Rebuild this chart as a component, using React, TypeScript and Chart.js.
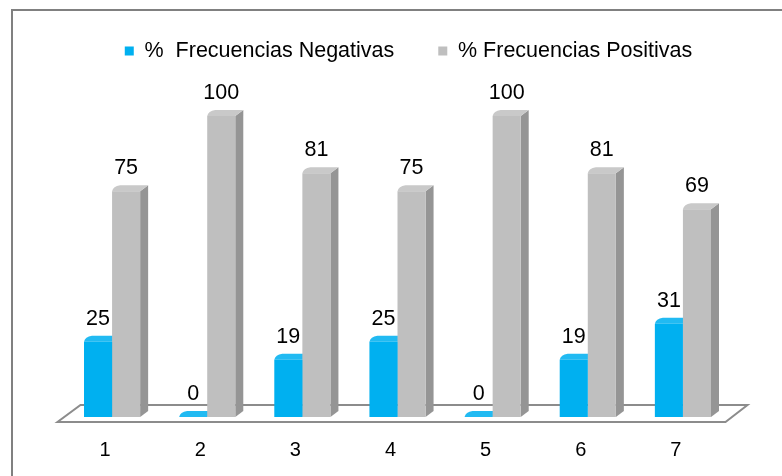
import React, { useEffect, useRef } from "react";
import { Chart, registerables } from "chart.js";

Chart.register(...registerables);

const categories = ["1", "2", "3", "4", "5", "6", "7"];
const negativas = [25, 0, 19, 25, 0, 19, 31];
const positivas = [75, 100, 81, 75, 100, 81, 69];
const seriesNames = ["%  Frecuencias Negativas", "% Frecuencias Positivas"];

const FONT = "'Liberation Sans', Arial, Helvetica, sans-serif";
const BLUE = "#00B0F0";
const BLUE_TOP = "#21BAF2";
const BLUE_SIDE = "#0090C8";
const GRAY = "#BFBFBF";
const GRAY_TOP = "#C9C9C9";
const GRAY_SIDE = "#959595";
const DX = 8;
const DY = -6;

const threeD = {
  id: "threeD",
  beforeDraw(chart: any) {
    const { ctx } = chart;
    ctx.save();
    ctx.strokeStyle = "#808080";
    ctx.lineWidth = 2;
    ctx.strokeRect(12, 10, 900, 700);
    ctx.restore();
  },
  beforeDatasetsDraw(chart: any) {
    const { ctx, chartArea } = chart;
    const base = chart.scales.y.getPixelForValue(0);
    const l = chartArea.left;
    const r = chartArea.right;
    ctx.save();
    // floor
    ctx.beginPath();
    ctx.moveTo(l - 7, base + 5);
    ctx.lineTo(r - 5, base + 5);
    ctx.lineTo(r + 17, base - 12);
    ctx.lineTo(l + 16, base - 12);
    ctx.closePath();
    ctx.fillStyle = "#ffffff";
    ctx.fill();
    ctx.strokeStyle = "#8C8C8C";
    ctx.lineWidth = 2;
    ctx.stroke();
    // side and top faces
    const tops = [BLUE_TOP, GRAY_TOP];
    const sides = [BLUE_SIDE, GRAY_SIDE];
    chart.data.datasets.forEach((ds: any, di: number) => {
      const meta = chart.getDatasetMeta(di);
      meta.data.forEach((bar: any) => {
        const x0 = bar.x - bar.width / 2;
        const x1 = bar.x + bar.width / 2;
        const y = bar.y;
        const b = bar.base;
        // side
        ctx.beginPath();
        ctx.moveTo(x1, y);
        ctx.lineTo(x1 + DX, y + DY);
        ctx.lineTo(x1 + DX, b + DY);
        ctx.lineTo(x1, b);
        ctx.closePath();
        ctx.fillStyle = sides[di];
        ctx.fill();
        // top
        ctx.beginPath();
        ctx.moveTo(x0, y);
        ctx.quadraticCurveTo(x0 + 1, y + DY + 1, x0 + DX, y + DY);
        ctx.lineTo(x1 + DX, y + DY);
        ctx.lineTo(x1, y);
        ctx.closePath();
        ctx.fillStyle = tops[di];
        ctx.fill();
      });
    });
    ctx.restore();
  },
  afterDatasetsDraw(chart: any) {
    const { ctx } = chart;
    ctx.save();
    ctx.font = `21.5px ${FONT}`;
    ctx.fillStyle = "#000000";
    ctx.textAlign = "center";
    ctx.textBaseline = "alphabetic";
    chart.data.datasets.forEach((ds: any, di: number) => {
      const meta = chart.getDatasetMeta(di);
      meta.data.forEach((bar: any, i: number) => {
        ctx.fillText(String(ds.data[i]), bar.x, bar.y - 17);
      });
    });
    ctx.restore();
  },
};

export default function App() {
  const ref = useRef<HTMLCanvasElement>(null);
  useEffect(() => {
    if (!ref.current) return;
    const chart = new Chart(ref.current, {
      type: "bar",
      data: {
        labels: categories,
        datasets: [
          { label: seriesNames[0], data: negativas, backgroundColor: BLUE, borderWidth: 0 },
          { label: seriesNames[1], data: positivas, backgroundColor: GRAY, borderWidth: 0 },
        ],
      },
      options: {
        responsive: false,
        animation: false,
        devicePixelRatio: 1,
        layout: { padding: { left: 64.5, right: 29.5, top: -3.75, bottom: -7 } },
        datasets: { bar: { categoryPercentage: 0.59, barPercentage: 1 } },
        plugins: {
          legend: {
            position: "top",
            labels: {
              boxWidth: 9,
              boxHeight: 9,
              padding: 44,
              color: "#000000",
              font: { family: FONT, size: 21.5 },
            },
          },
          tooltip: { enabled: false },
        },
        scales: {
          x: {
            grid: { display: false, drawTicks: false },
            border: { display: false },
            ticks: {
              color: "#000000",
              font: { family: FONT, size: 20 },
              padding: 21,
              labelOffset: -7,
            },
          },
          y: {
            position: "right",
            min: 0,
            max: 114.7,
            grid: { display: false, drawTicks: false },
            border: { display: false },
            ticks: { display: false },
            afterFit: (scale: any) => {
              scale.width = 22;
            },
          },
        },
      },
      plugins: [threeD],
    });
    return () => chart.destroy();
  }, []);
  return (
    <div style={{ position: "fixed", left: 0, top: 0, width: 782, height: 476, background: "#fff" }}>
      <canvas ref={ref} width={782} height={476} style={{ display: "block" }} />
    </div>
  );
}
